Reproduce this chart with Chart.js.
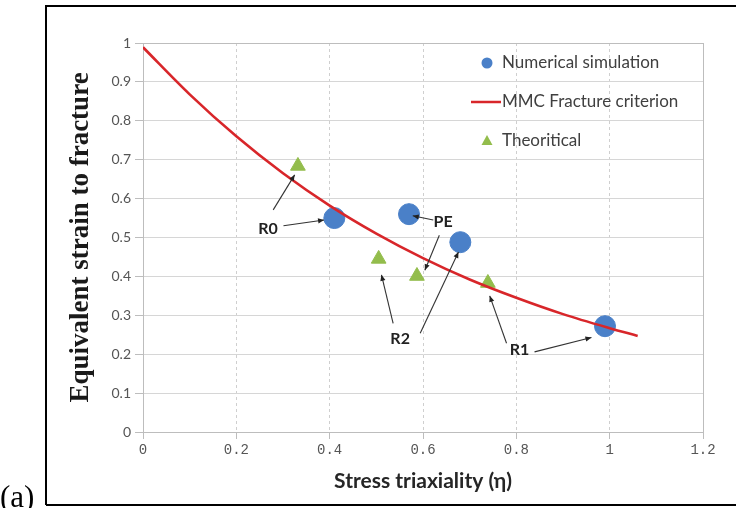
<!DOCTYPE html>
<html>
<head>
<meta charset="utf-8">
<script src="https://cdn.jsdelivr.net/npm/chart.js@4.4.1/dist/chart.umd.min.js"></script>
<style>
  html, body { margin: 0; padding: 0; background: #fff; }
  #wrap { width: 736px; height: 508px; position: relative; }
</style>
</head>
<body>
<div id="wrap"><canvas id="c" width="736" height="508"></canvas></div>
<script>
// Stress triaxiality values of the simulated specimens (R0, PE, R2, R1)
const simEta = [0.41, 0.57, 0.68, 0.99];
const simStrain = [0.55, 0.56, 0.488, 0.272];

// Theoretical predictions (R0, R2, PE, R1)
const theoEta = [0.332, 0.505, 0.587, 0.739];
const theoStrain = [0.684, 0.445, 0.401, 0.383];

// MMC fracture locus sampled along the triaxiality axis
const mmcEta = [0, 0.1, 0.2, 0.3, 0.4, 0.5, 0.6, 0.7, 0.8, 0.9, 1.0, 1.06];
const mmcStrain = [0.989, 0.868, 0.760, 0.665, 0.582, 0.510, 0.447, 0.392, 0.345, 0.303, 0.267, 0.247];

// Axis ticks
const xTicks = [0, 0.2, 0.4, 0.6, 0.8, 1, 1.2];
const yTicks = [0, 0.1, 0.2, 0.3, 0.4, 0.5, 0.6, 0.7, 0.8, 0.9, 1];

// Specimen callouts: label position and arrow segments (data units)
const calloutText = ['R0', 'PE', 'R2', 'R1'];
const calloutPos = [[0.268, 0.523], [0.643, 0.541], [0.551, 0.239], [0.807, 0.211]];
const calloutArrows = [
  [[0.279, 0.571, 0.325, 0.661], [0.301, 0.530, 0.388, 0.545]],
  [[0.622, 0.545, 0.578, 0.556], [0.635, 0.506, 0.604, 0.416]],
  [[0.536, 0.279, 0.511, 0.404], [0.594, 0.254, 0.676, 0.463]],
  [[0.779, 0.228, 0.743, 0.350], [0.839, 0.206, 0.961, 0.243]]
];

const BLUE = '#4a80c8';
const GREEN = '#93bd4c';
const RED = '#d8262a';

const toPts = (xs, ys) => xs.map((x, i) => ({ x: x, y: ys[i] }));

// Outer frame and panel tag
const framePlugin = {
  id: 'frame',
  afterDraw(chart) {
    const ctx = chart.ctx;
    ctx.save();
    ctx.strokeStyle = '#000';
    ctx.lineWidth = 2;
    ctx.beginPath();
    ctx.moveTo(46, 505);
    ctx.lineTo(46, 6);
    ctx.lineTo(736, 6);
    ctx.moveTo(46, 505);
    ctx.lineTo(736, 505);
    ctx.stroke();
    ctx.fillStyle = '#000';
    ctx.font = '31px "Liberation Serif"';
    ctx.textBaseline = 'alphabetic';
    ctx.textAlign = 'left';
    ctx.fillText('(a)', 0, 507);
    ctx.restore();
  }
};

// Plot-area border
const borderPlugin = {
  id: 'areaBorder',
  beforeDatasetsDraw(chart) {
    const a = chart.chartArea, ctx = chart.ctx;
    ctx.save();
    ctx.strokeStyle = '#bdbdbd';
    ctx.lineWidth = 1;
    ctx.strokeRect(Math.round(a.left) + 0.5, Math.round(a.top) + 0.5,
      Math.round(a.right - a.left), Math.round(a.bottom - a.top));
    ctx.restore();
  }
};

// Arrows and specimen labels
const calloutPlugin = {
  id: 'callouts',
  afterDatasetsDraw(chart) {
    const ctx = chart.ctx, xs = chart.scales.x, ys = chart.scales.y;
    ctx.save();
    ctx.strokeStyle = '#333';
    ctx.fillStyle = '#222';
    ctx.lineWidth = 1.1;
    calloutArrows.forEach(group => {
      group.forEach(s => {
        const x0 = xs.getPixelForValue(s[0]), y0 = ys.getPixelForValue(s[1]);
        const x1 = xs.getPixelForValue(s[2]), y1 = ys.getPixelForValue(s[3]);
        ctx.beginPath();
        ctx.moveTo(x0, y0);
        ctx.lineTo(x1, y1);
        ctx.stroke();
        const ang = Math.atan2(y1 - y0, x1 - x0);
        const L = 6, W = 2.6;
        ctx.beginPath();
        ctx.moveTo(x1, y1);
        ctx.lineTo(x1 - L * Math.cos(ang) + W * Math.sin(ang), y1 - L * Math.sin(ang) - W * Math.cos(ang));
        ctx.lineTo(x1 - L * Math.cos(ang) - W * Math.sin(ang), y1 - L * Math.sin(ang) + W * Math.cos(ang));
        ctx.closePath();
        ctx.fill();
      });
    });
    ctx.font = 'bold 16px Lato';
    ctx.textAlign = 'center';
    ctx.textBaseline = 'middle';
    calloutText.forEach((t, i) => {
      ctx.fillText(t, xs.getPixelForValue(calloutPos[i][0]), ys.getPixelForValue(calloutPos[i][1]));
    });
    ctx.restore();
  }
};

// Legend inside the plot area
const legendPlugin = {
  id: 'insideLegend',
  afterDatasetsDraw(chart) {
    const ctx = chart.ctx;
    const rows = [63, 102, 141];
    const mx = 487, tx = 502;
    ctx.save();
    ctx.font = '17px Lato';
    ctx.textBaseline = 'middle';
    ctx.textAlign = 'left';
    chart.data.datasets.forEach((ds, i) => {
      const y = rows[i];
      if (ds.showLine) {
        ctx.strokeStyle = ds.borderColor;
        ctx.lineWidth = 2.5;
        ctx.beginPath();
        ctx.moveTo(471, y);
        ctx.lineTo(501, y);
        ctx.stroke();
      } else if (ds.pointStyle === 'triangle') {
        ctx.fillStyle = ds.backgroundColor;
        ctx.beginPath();
        ctx.moveTo(mx, y - 6);
        ctx.lineTo(mx + 5.5, y + 4);
        ctx.lineTo(mx - 5.5, y + 4);
        ctx.closePath();
        ctx.fill();
      } else {
        ctx.fillStyle = ds.backgroundColor;
        ctx.beginPath();
        ctx.arc(mx, y, 5.5, 0, Math.PI * 2);
        ctx.fill();
      }
      ctx.fillStyle = '#404040';
      ctx.fillText(ds.label, tx, y);
    });
    ctx.restore();
  }
};

new Chart(document.getElementById('c'), {
  type: 'scatter',
  data: {
    datasets: [
      {
        label: 'Numerical simulation',
        data: toPts(simEta, simStrain),
        backgroundColor: BLUE,
        borderColor: BLUE,
        pointRadius: 10.5,
        pointStyle: 'circle',
        order: 2
      },
      {
        label: 'MMC Fracture criterion',
        data: toPts(mmcEta, mmcStrain),
        showLine: true,
        borderColor: RED,
        backgroundColor: RED,
        borderWidth: 2.6,
        pointRadius: 0,
        cubicInterpolationMode: 'monotone',
        order: 0
      },
      {
        label: 'Theoritical',
        data: toPts(theoEta, theoStrain),
        backgroundColor: GREEN,
        borderColor: GREEN,
        pointRadius: 8.5,
        pointStyle: 'triangle',
        order: 1
      }
    ]
  },
  options: {
    responsive: false,
    animation: false,
    devicePixelRatio: 1,
    layout: { padding: { left: 60, top: 43, right: 33, bottom: 10 } },
    plugins: {
      legend: { display: false },
      tooltip: { enabled: false }
    },
    scales: {
      x: {
        type: 'linear',
        min: 0, max: 1.2,
        afterBuildTicks: s => { s.ticks = xTicks.map(v => ({ value: v })); },
        afterFit: s => { s.height = 66; },
        grid: {
          color: '#cfcfcf',
          lineWidth: 1,
          tickLength: 7,
          tickColor: '#bdbdbd',
          drawTicks: true
        },
        border: { color: '#bdbdbd', dash: [3, 3] },
        ticks: {
          color: '#555',
          font: { family: '"Liberation Mono"', size: 14 },
          padding: 3,
          maxRotation: 0,
          callback: v => String(v)
        },
        title: {
          display: true,
          text: 'Stress triaxiality (η)',
          color: '#262626',
          font: { family: 'Lato', size: 21, weight: 'bold' },
          padding: { top: 0, bottom: 4 }
        }
      },
      y: {
        type: 'linear',
        min: 0, max: 1,
        afterBuildTicks: s => { s.ticks = yTicks.map(v => ({ value: v })); },
        afterFit: s => { s.width = 83; },
        grid: {
          color: '#d6d6d6',
          lineWidth: 1,
          tickLength: 8,
          tickColor: '#bdbdbd'
        },
        border: { color: '#bdbdbd' },
        ticks: {
          color: '#555',
          font: { family: 'Lato', size: 14 },
          padding: 4,
          callback: v => String(v)
        },
        title: {
          display: true,
          text: 'Equivalent strain to fracture',
          color: '#1a1a1a',
          font: { family: '"Liberation Serif"', size: 27, weight: 'bold' },
          padding: { top: 5, bottom: 0 }
        }
      }
    }
  },
  plugins: [framePlugin, borderPlugin, calloutPlugin, legendPlugin]
});
</script>
</body>
</html>
